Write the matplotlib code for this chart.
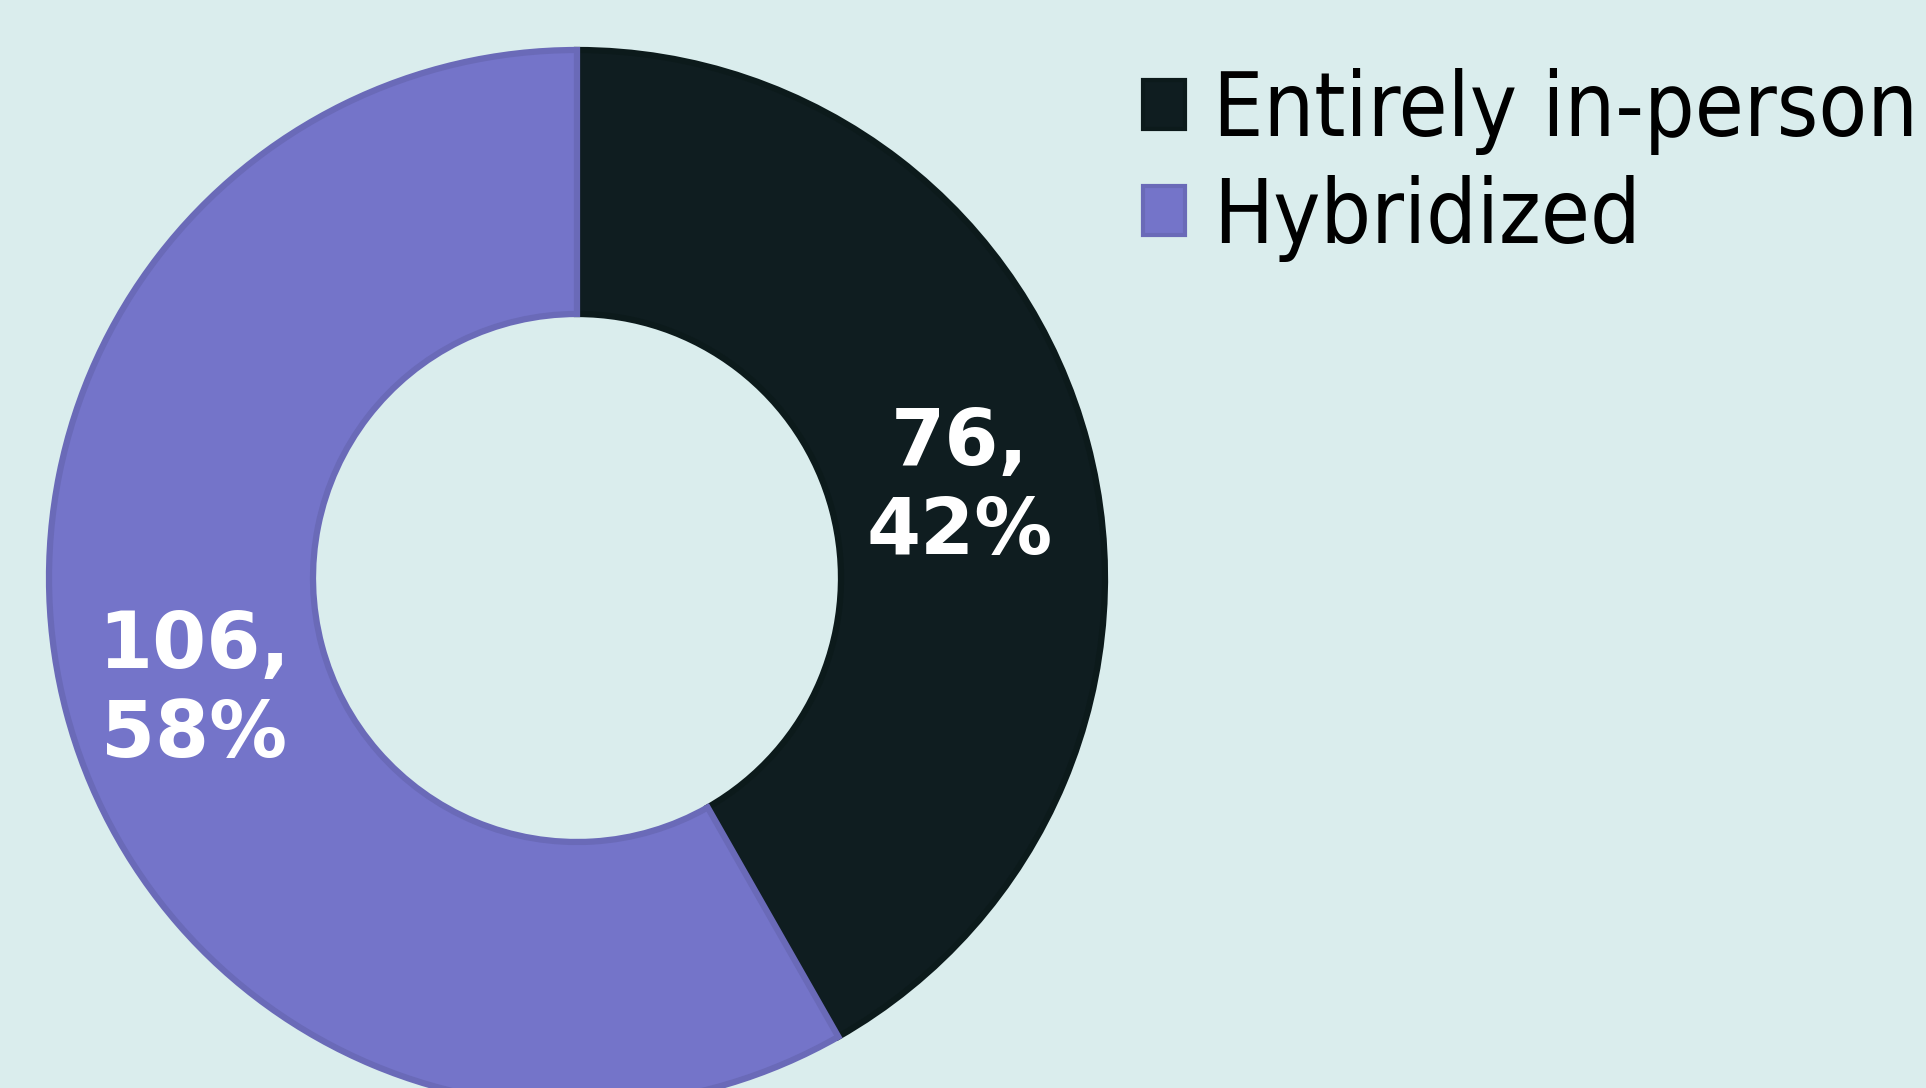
import matplotlib
matplotlib.use("Agg")
import matplotlib.pyplot as plt
import numpy as np

categories = ["Entirely in-person", "Hybridized"]
values = [76, 106]
percents = ["42%", "58%"]
colors = ["#0f1d20", "#7474c9"]
edge_colors = ["#0c1a1b", "#6a6ab8"]

W, H = 1926, 1088
fig = plt.figure(figsize=(W / 100, H / 100), dpi=100)
bg = "#daeded"
fig.patch.set_facecolor(bg)

cx, cy, R = 577, 1088 - 578, 528
ax = fig.add_axes([(cx - R) / W, (cy - R) / H, 2 * R / W, 2 * R / H])
ax.set_facecolor(bg)

wedges, _ = ax.pie(values, colors=colors, startangle=90, counterclock=False,
                   radius=1.0, wedgeprops=dict(width=0.5, linewidth=4.5))
for w, ec in zip(wedges, edge_colors):
    w.set_edgecolor(ec)
    w.set_clip_on(False)
ax.set_xlim(-1, 1)
ax.set_ylim(-1, 1)
ax.set_aspect("equal")
ax.axis("off")

total = sum(values)
start = 90.0
for v, p in zip(values, percents):
    span = v / total * 360
    mid = np.deg2rad(start - span / 2)
    start -= span
    r = 0.75
    ax.text(r * np.cos(mid), r * np.sin(mid) - 0.021, f"{v},\n{p}", ha="center", va="center",
            color="white", fontsize=56, fontweight="bold", family="DejaVu Sans",
            linespacing=1.22)

leg = fig.legend(wedges, categories, loc="upper left",
                 bbox_to_anchor=(1143 / W, 1 - 68 / H), frameon=False,
                 prop=dict(family="DejaVu Sans", stretch="condensed", size=64),
                 handlelength=0.47, handleheight=0.47, handletextpad=0.32,
                 labelspacing=0.22, borderpad=0, borderaxespad=0)
for h in leg.legend_handles:
    h.set_linewidth(3)

fig.savefig("out.png", dpi=100, facecolor=bg)
